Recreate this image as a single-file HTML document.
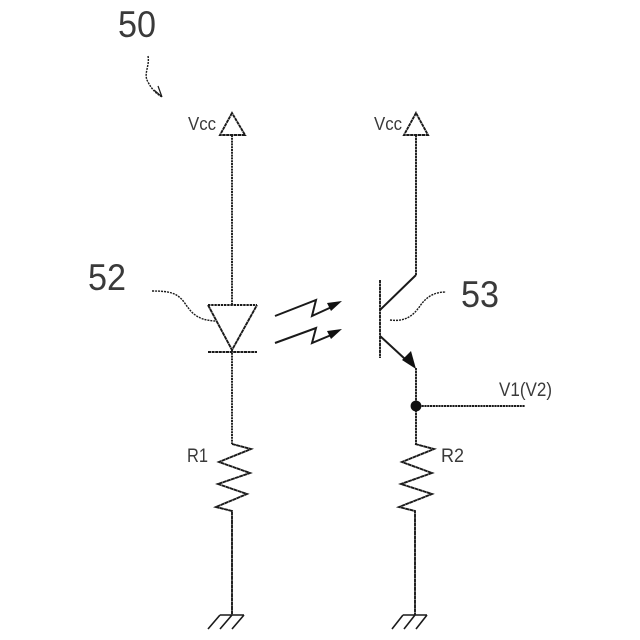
<!DOCTYPE html>
<html><head><meta charset="utf-8"><style>
html,body{margin:0;padding:0;background:#fff}
svg{display:block}
text{font-family:"Liberation Sans",sans-serif;fill:#3a3a3a}
</style></head><body>
<svg width="640" height="640" viewBox="0 0 640 640" xmlns="http://www.w3.org/2000/svg">
<g fill="none" stroke="#1a1a1a" stroke-width="1.9">
<!-- Vcc triangles and rails -->
<path d="M232 113L220 135H245Z" stroke-dasharray="3.4 .5"/>
<path d="M416 113L404 135H428Z" stroke-dasharray="3.4 .5"/>
<path d="M232 135V305" stroke-dasharray="2 .8"/>
<path d="M416 135V275" stroke-dasharray="2.5 .5"/>
<!-- diode -->
<path d="M208 305H257" stroke-dasharray="2.4 .8"/>
<path d="M208 305L232 350L257 305" stroke-dasharray="4 .4"/>
<path d="M208 352H257" stroke-dasharray="3 .6"/>
<path d="M232 350V444" stroke-dasharray="2 .8"/>
<!-- photons -->
<path d="M275 316L316 300L312 316L336 305" stroke-width="2"/>
<path d="M275 343L316 328L312 343L336 333" stroke-width="2"/>
<!-- transistor -->
<path d="M380 280V358" stroke-dasharray="3 .5"/>
<path d="M380 310L416 275" stroke-width="2"/>
<path d="M380 336L405 359" stroke-width="2"/>
<path d="M416 368V444" stroke-dasharray="2.5 .5"/>
<path d="M416 406H525" stroke-dasharray="2.2 .6"/>
<!-- resistors -->
<path d="M232 444L251 449L219 462L250 473L218 484L247 494L216 507L232 511V615" stroke-dasharray="4 .3"/>
<path d="M415 444L434 449L402 462L432 473L401 484L432 494L399 507L415 511V615" stroke-dasharray="4 .3"/>
<!-- grounds -->
<path d="M220 615H244M220 615L208 629M232 615L220 629M244 615L232 629" stroke-width="1.6"/>
<path d="M403 615H427M403 615L392 629M415 615L404 629M427 615L416 629" stroke-width="1.6"/>
<!-- leaders -->
<g stroke-width="1.4" stroke-dasharray="2 1">
<path d="M152 291C170 291 177 293 184 302C191 312 196 320 215 321"/>
<path d="M390 320C405 322 413 316 420 306C427 296 435 292 446 292"/>
<path d="M148 56C150 66 143 74 148 82C152 90 157 94 162 97"/>
</g>
<path d="M154 90L161 96M158 86L162 97" stroke-width="1.2"/>
</g>
<g fill="#111" stroke="none">
<path d="M342 301L327 303L331 311Z"/>
<path d="M342 329L327 331L331 339Z"/>
<path d="M416 369L402 360L411 351Z"/>
<circle cx="416" cy="406" r="5.4"/>
</g>
<text x="118" y="37" font-size="37" textLength="38" lengthAdjust="spacingAndGlyphs">50</text>
<text x="88" y="290" font-size="37" textLength="38" lengthAdjust="spacingAndGlyphs">52</text>
<text x="461" y="307" font-size="37" textLength="38" lengthAdjust="spacingAndGlyphs">53</text>
<text x="188" y="130" font-size="18" textLength="28" lengthAdjust="spacingAndGlyphs">Vcc</text>
<text x="374" y="130" font-size="18" textLength="28" lengthAdjust="spacingAndGlyphs">Vcc</text>
<text x="187" y="462" font-size="19" textLength="21" lengthAdjust="spacingAndGlyphs">R1</text>
<text x="441" y="462" font-size="19" textLength="23" lengthAdjust="spacingAndGlyphs">R2</text>
<text x="499" y="396" font-size="19" textLength="53" lengthAdjust="spacingAndGlyphs">V1(V2)</text>
</svg>
</body></html>
